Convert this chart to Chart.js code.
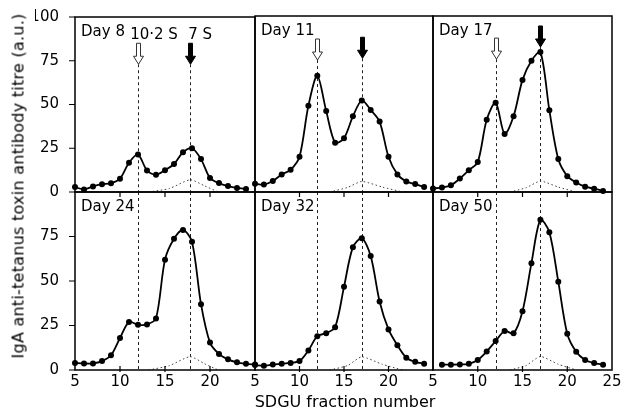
<!DOCTYPE html>
<html>
<head>
<meta charset="utf-8">
<script src="https://cdn.jsdelivr.net/npm/chart.js@4.4.1/dist/chart.umd.min.js"></script>
<style>
  body { margin: 0; background: #fff; }
  #stage { position: relative; width: 623px; height: 413px; overflow: hidden; }
  #stage canvas { position: absolute; left: 0; top: 0; }
  .title { position: absolute; white-space: nowrap; font-family: 'DejaVu Sans', sans-serif; color: #000; }
  #ytitle { left: 18px; top: 186px; font-size: 16px; letter-spacing: 0.25px; transform: translate(-50%, -50%) rotate(-90deg); }
  #xtitle { left: 345px; top: 401px; font-size: 16px; transform: translate(-50%, -50%); }
</style>
</head>
<body>
<div id="stage">
  <div class="title" id="ytitle">IgA anti-tetanus toxin antibody titre (a.u.)</div>
  <div class="title" id="xtitle">SDGU fraction number</div>
</div>
<script>
// SDGU fractions (first fraction of each curve in `starts`)
const days = ['Day 8', 'Day 11', 'Day 17', 'Day 24', 'Day 32', 'Day 50'];
const starts = [5, 5, 5, 5, 5, 6];

const day8  = [2.8, 1.5, 3.2, 4.5, 5, 7.6, 16.7, 21.4, 12.3, 9.8, 12.5, 16, 22.7, 25, 18.8, 8, 5.1, 3.4, 2.3, 1.7];
const day11 = [4.7, 4.2, 6.2, 10, 12.6, 20, 49, 66, 46, 28, 30.6, 43, 52, 46.6, 40, 20, 10, 6, 4.5, 2.8];
const day17 = [2, 2.5, 3.8, 7.6, 12.4, 17, 41, 50.7, 33, 43, 63.7, 74.6, 79.5, 46.5, 18.7, 9, 5.4, 3, 1.9, 0.6];
const day24 = [4, 3.7, 3.7, 5, 8.3, 18, 27, 25.4, 25.6, 29, 62, 73.7, 78.7, 72, 37, 15.4, 9, 6, 4.3, 3.5, 3.1];
const day32 = [2.8, 2.4, 3.1, 3.5, 4, 5, 11, 19, 20.7, 24, 46.7, 69, 74, 64, 38.5, 22.8, 13.9, 6.9, 4.6, 3.5];
const day50 = [3, 3, 3.1, 3.5, 5.6, 10.4, 16.3, 21.9, 20.6, 33, 60, 84.4, 77.4, 49.6, 20.4, 10.2, 5.6, 3.9, 3];
const titres = [day8, day11, day17, day24, day32, day50];

// dotted 7 S background curve
const dotX = [
  [13.2, 15.5, 17.8, 19.4, 20.9],
  [13.4, 15.4, 17, 19.3, 21.6],
  [13.6, 15.4, 17, 19, 21]
];
const dotY = [
  [0, 2, 7, 3.5, 0],
  [0, 2.6, 6, 2.8, 0],
  [0, 2.4, 6.2, 2.8, 0],
  [0, 2.5, 7.5, 3.5, 0],
  [0, 2.5, 7.4, 3.2, 0],
  [0, 2.5, 7.6, 3.2, 0]
];

// marker positions (10.2 S, 7 S) per column
const marker102 = [12, 12, 12];
const marker7 = [17.8, 17, 17];

const yTicks = [0, 25, 50, 75, 100];
const xTicks = [5, 10, 15, 20, 25];

// panel rectangles in px
const colL = [75, 255, 433], colR = [255, 433, 612];
const rowT = [16, 192], rowB = [192, 370];
// arrow tips (titre units) for top row: [open, filled]
const arrowTips = [[73, 73], [75, 76], [75.5, 82.4]];

Chart.defaults.font.family = "'DejaVu Sans', sans-serif";
Chart.defaults.font.size = 15;
Chart.defaults.color = '#000';
Chart.defaults.animation = false;

function arrow(ctx, px, tipY, filled) {
  const len = 21, shaftW = 4, headW = 10, headL = 8;
  const top = tipY - len, neck = tipY - headL;
  ctx.beginPath();
  ctx.moveTo(px - shaftW / 2, top);
  ctx.lineTo(px + shaftW / 2, top);
  ctx.lineTo(px + shaftW / 2, neck);
  ctx.lineTo(px + headW / 2, neck);
  ctx.lineTo(px, tipY);
  ctx.lineTo(px - headW / 2, neck);
  ctx.lineTo(px - shaftW / 2, neck);
  ctx.closePath();
  ctx.fillStyle = filled ? '#000' : '#fff';
  ctx.fill();
  ctx.lineWidth = 1;
  ctx.strokeStyle = filled ? '#000' : '#333';
  ctx.stroke();
}

const decor = {
  id: 'decor',
  beforeDatasetsDraw(chart, args, o) {
    const { ctx, chartArea: a, scales: { x, y } } = chart;
    ctx.save();
    ctx.strokeStyle = '#222';
    ctx.lineWidth = 1;
    ctx.setLineDash([3, 3]);
    [marker102[o.col], marker7[o.col]].forEach((m, i) => {
      const px = Math.round(x.getPixelForValue(m)) + 0.5;
      const top = o.row === 0 ? y.getPixelForValue(arrowTips[o.col][i]) : a.top;
      ctx.beginPath();
      ctx.moveTo(px, top);
      ctx.lineTo(px, a.bottom);
      ctx.stroke();
    });
    ctx.restore();
  },
  afterDraw(chart, args, o) {
    const { ctx, chartArea: a, scales: { x, y } } = chart;
    ctx.save();
    ctx.strokeStyle = '#000';
    ctx.lineWidth = 1.5;
    ctx.strokeRect(a.left, a.top, a.right - a.left, a.bottom - a.top);
    ctx.lineWidth = 1.2;
    ctx.beginPath();
    [10, 15, 20].forEach(v => {
      const px = x.getPixelForValue(v);
      if (o.row === 0) { ctx.moveTo(px, a.bottom); ctx.lineTo(px, a.bottom + 5); }
      else { ctx.moveTo(px, a.bottom - 4); ctx.lineTo(px, a.bottom + 2); }
    });
    if (o.col === 0) {
      yTicks.forEach(v => {
        if (o.row === 1 && v === 100) return;
        const py = y.getPixelForValue(v);
        ctx.moveTo(a.left - 6, py);
        ctx.lineTo(a.left, py);
      });
    }
    ctx.stroke();

    ctx.font = "15px 'DejaVu Sans', sans-serif";
    ctx.fillStyle = '#000';
    ctx.textBaseline = 'alphabetic';
    ctx.textAlign = 'left';
    ctx.fillText(o.day, a.left + 6, a.top + 19);

    if (o.row === 0) {
      const p1 = x.getPixelForValue(marker102[o.col]);
      const p2 = x.getPixelForValue(marker7[o.col]);
      arrow(ctx, Math.round(p1) + 0.5, y.getPixelForValue(arrowTips[o.col][0]), false);
      arrow(ctx, Math.round(p2) + 0.5, y.getPixelForValue(arrowTips[o.col][1]), true);
      if (o.col === 0) {
        ctx.textAlign = 'center';
        ctx.fillText('10\u00b72 S', p1 + 16, a.top + 22);
        ctx.fillText('7 S', p2 + 10, a.top + 22);
      }
    }
    ctx.restore();
  }
};

const stage = document.getElementById('stage');

days.forEach((day, k) => {
  const col = k % 3, row = Math.floor(k / 3);
  const cv = document.createElement('canvas');
  cv.width = 623;
  cv.height = 413;
  stage.insertBefore(cv, stage.firstChild);

  const yW = 40, xH = 26;
  new Chart(cv, {
    type: 'line',
    data: {
      datasets: [
        {
          data: titres[k].map((v, i) => ({ x: starts[k] + i, y: v })),
          borderColor: '#000',
          borderWidth: 1.8,
          pointRadius: 3,
          pointBackgroundColor: '#000',
          pointBorderWidth: 0,
          tension: 0.3,
          clip: 6
        },
        {
          data: dotX[col].map((f, i) => ({ x: f, y: dotY[k][i] })),
          borderColor: '#444',
          borderWidth: 1,
          borderDash: [1.5, 2.5],
          pointRadius: 0,
          tension: 0.2
        }
      ]
    },
    options: {
      responsive: false,
      events: [],
      layout: {
        padding: {
          left: col === 0 ? colL[0] - yW : colL[col],
          right: 623 - colR[col],
          top: rowT[row],
          bottom: row === 1 ? 413 - rowB[1] - xH : 413 - rowB[0]
        }
      },
      plugins: {
        legend: { display: false },
        tooltip: { enabled: false },
        decor: { col: col, row: row, day: day }
      },
      scales: {
        x: {
          type: 'linear',
          min: 5,
          max: 25,
          display: row === 1,
          grid: { display: false },
          border: { display: false },
          afterBuildTicks: s => { s.ticks = xTicks.map(v => ({ value: v })); },
          afterFit: s => { if (row === 1) s.height = xH; },
          ticks: {
            padding: -5,
            maxRotation: 0,
            autoSkip: false,
            callback: v => (v === 25 && col < 2) ? '' : v
          }
        },
        y: {
          min: 0,
          max: 100,
          display: col === 0,
          grid: { display: false },
          border: { display: false },
          afterBuildTicks: s => { s.ticks = yTicks.map(v => ({ value: v })); },
          afterFit: s => { if (col === 0) s.width = yW; },
          ticks: {
            padding: 8,
            autoSkip: false,
            callback: v => (v === 100 && row === 1) ? '' : v
          }
        }
      }
    },
    plugins: [decor]
  });
});
</script>
</body>
</html>
